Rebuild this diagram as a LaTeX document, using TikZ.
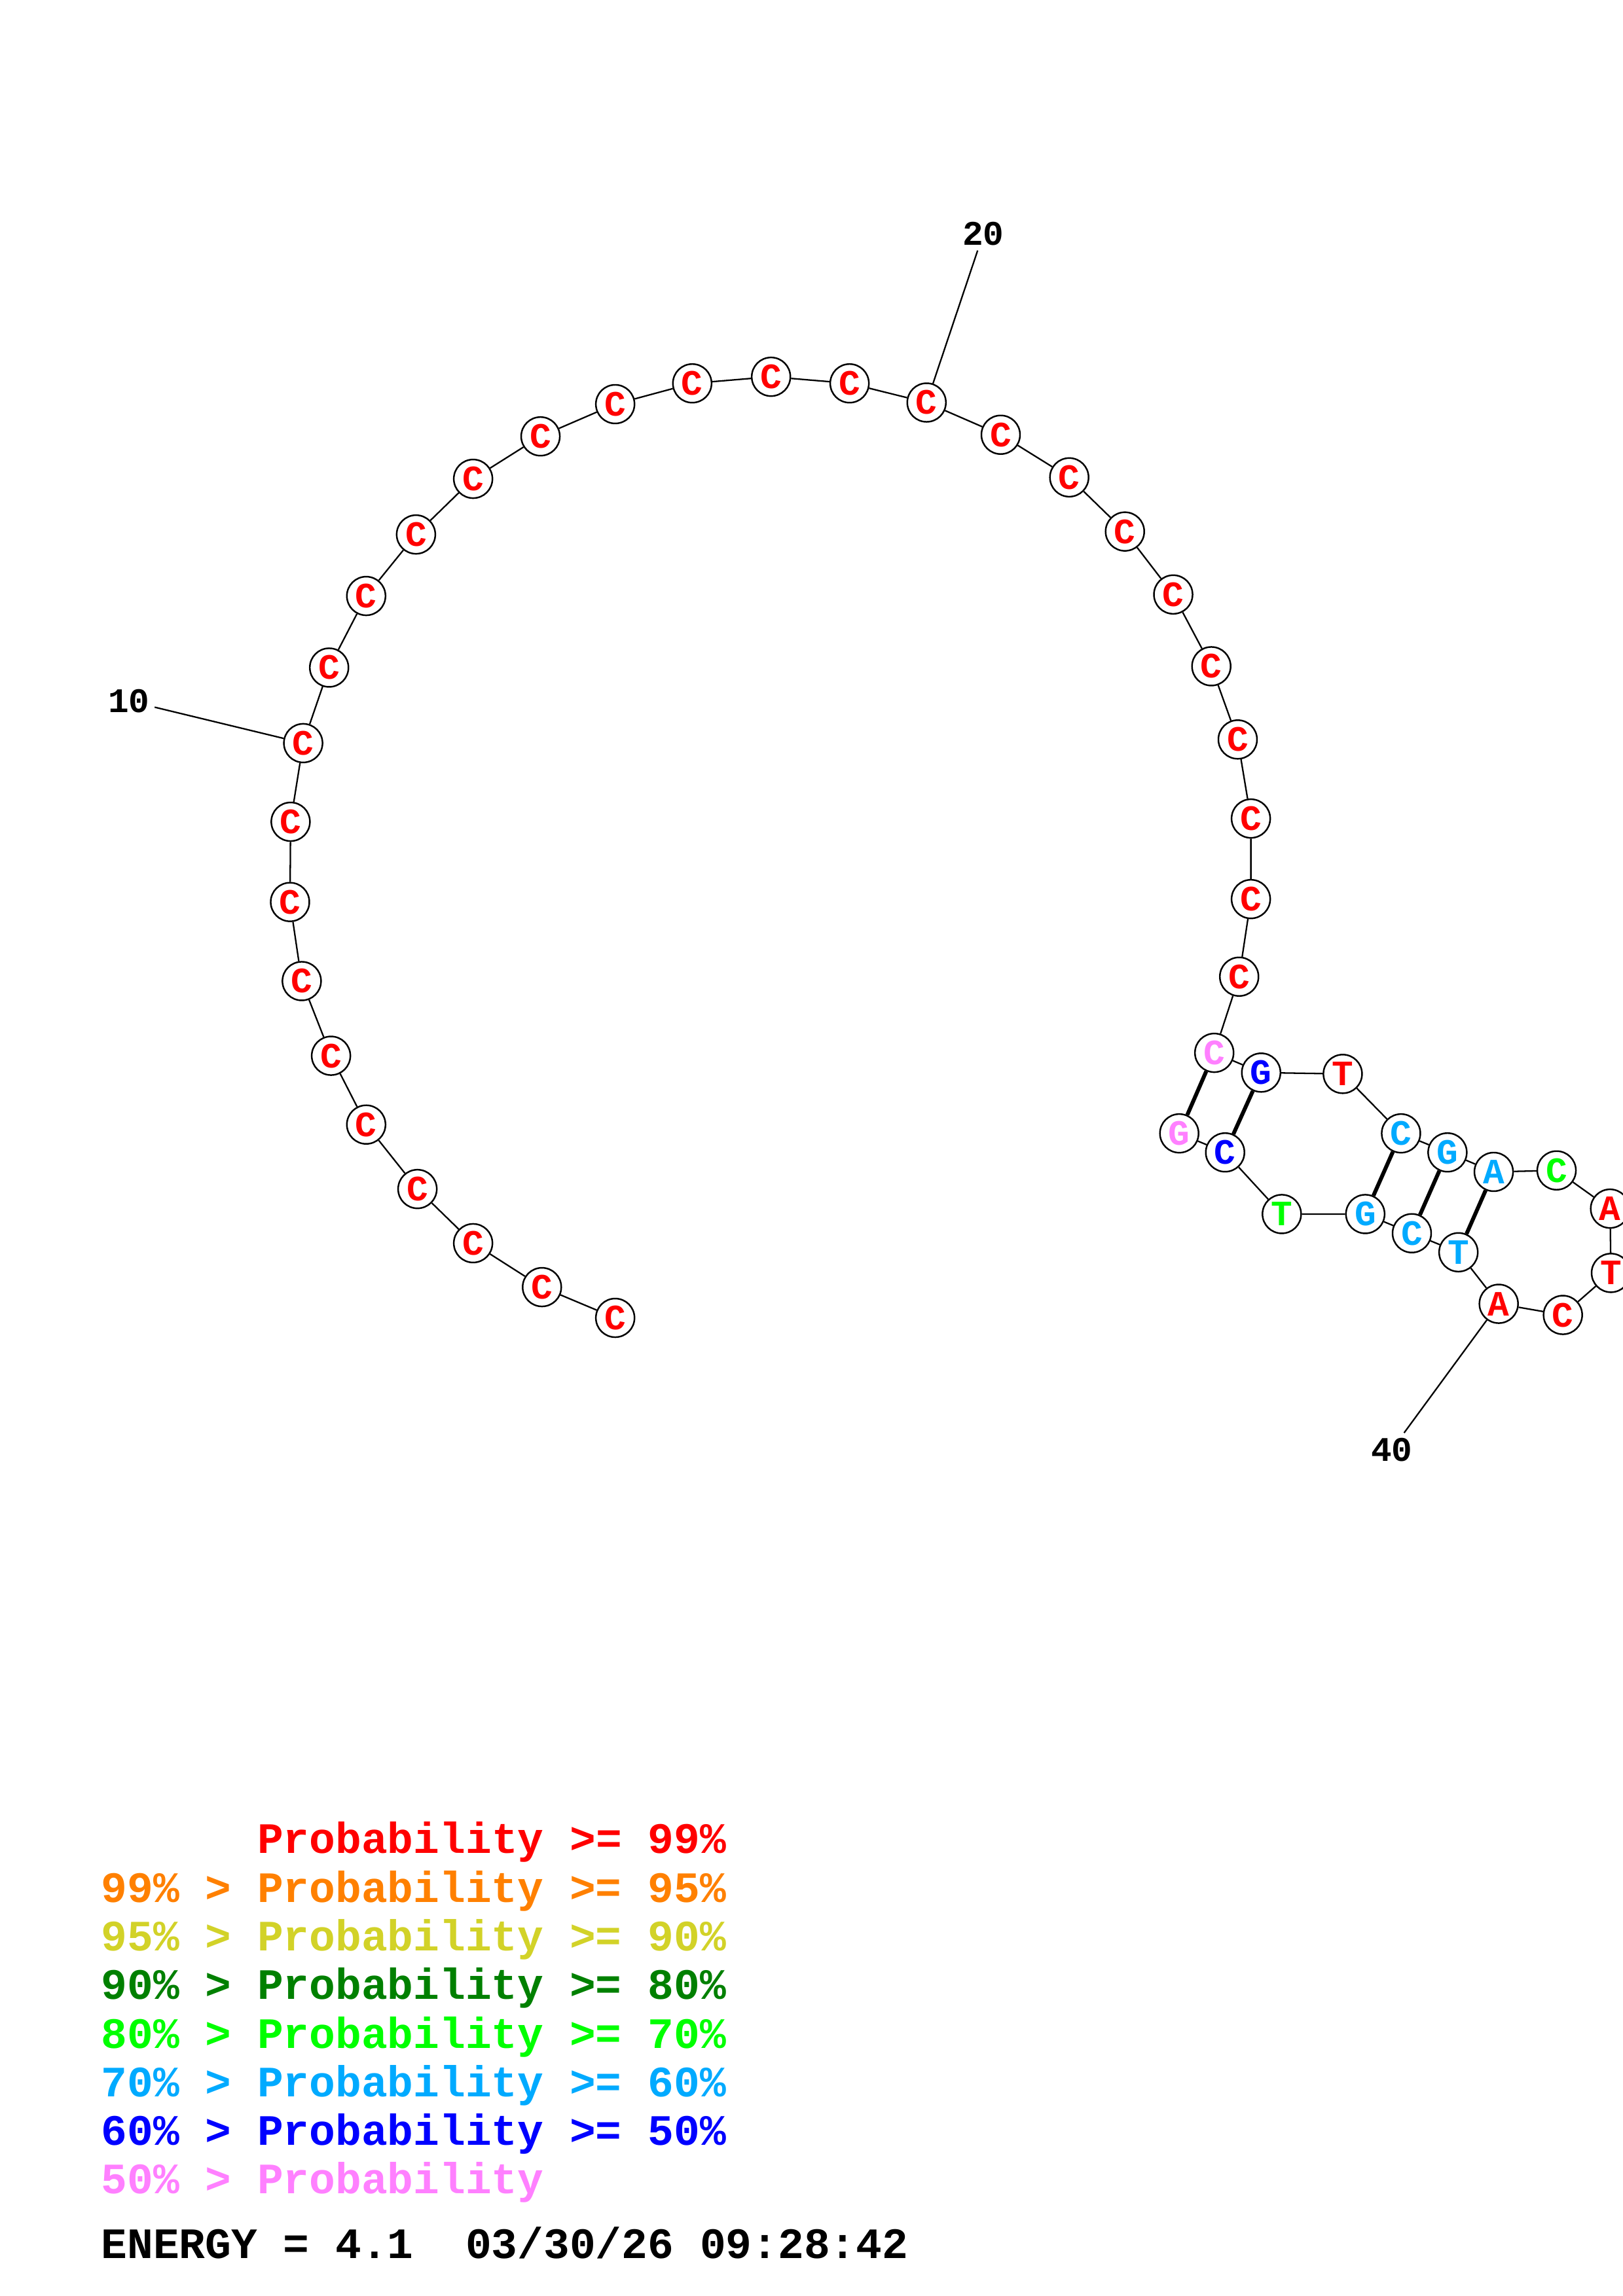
\documentclass[tikz,border=0pt]{standalone}
\usepackage{fontspec}
\setmonofont{Liberation Mono}
\usepackage{xcolor}

\definecolor{pRed}{RGB}{255,0,0}
\definecolor{pOrange}{RGB}{255,128,0}
\definecolor{pYellow}{RGB}{210,210,40}
\definecolor{pDkGreen}{RGB}{0,128,0}
\definecolor{pGreen}{RGB}{0,255,0}
\definecolor{pSky}{RGB}{0,170,255}
\definecolor{pBlue}{RGB}{0,0,255}
\definecolor{pPink}{RGB}{255,128,255}

\tikzset{
  nt/.style={circle, draw, fill=white, line width=0.7pt, minimum size=0.59cm, inner sep=0pt,
    font=\ttfamily\bfseries\fontsize{15.5pt}{15.5pt}\selectfont},
  bond/.style={line width=0.65pt},
  pairbond/.style={line width=1.7pt},
  num/.style={inner sep=2pt, font=\ttfamily\bfseries\fontsize{15pt}{15pt}\selectfont},
  legline/.style={anchor=base west, inner sep=0pt,
    font=\ttfamily\bfseries\fontsize{18.85pt}{18.85pt}\selectfont}
}

\begin{document}
\begin{tikzpicture}[x=0.022374cm, y=-0.022374cm]
        \useasboundingbox (0,0) rectangle (1108,1568);

        % Nodes
        \node[nt, text=pRed] (n1) at (420,900) {C};
        \node[nt, text=pRed] (n2) at (370,879) {C};
        \node[nt, text=pRed] (n3) at (323,849) {C};
        \node[nt, text=pRed] (n4) at (285,812) {C};
        \node[nt, text=pRed] (n5) at (250,768) {C};
        \node[nt, text=pRed] (n6) at (226,721) {C};
        \node[nt, text=pRed] (n7) at (206,670) {C};
        \node[nt, text=pRed] (n8) at (198,616) {C};
        \node[nt, text=pRed] (n9) at (198.4,561.2) {C};
        \node[nt, text=pRed] (n10) at (207,507.5) {C};
        \node[nt, text=pRed] (n11) at (224.7,455.9) {C};
        \node[nt, text=pRed] (n12) at (250,407) {C};
        \node[nt, text=pRed] (n13) at (284,365) {C};
        \node[nt, text=pRed] (n14) at (323,327) {C};
        \node[nt, text=pRed] (n15) at (369,298) {C};
        \node[nt, text=pRed] (n16) at (420,276) {C};
        \node[nt, text=pRed] (n17) at (472.6,261.8) {C};
        \node[nt, text=pRed] (n18) at (526.4,257.3) {C};
        \node[nt, text=pRed] (n19) at (580,261.8) {C};
        \node[nt, text=pRed] (n20) at (632.6,274.9) {C};
        \node[nt, text=pRed] (n21) at (683.2,296.9) {C};
        \node[nt, text=pRed] (n22) at (730,326) {C};
        \node[nt, text=pRed] (n23) at (768,363) {C};
        \node[nt, text=pRed] (n24) at (801,406) {C};
        \node[nt, text=pRed] (n25) at (827,455) {C};
        \node[nt, text=pRed] (n26) at (845,505) {C};
        \node[nt, text=pRed] (n27) at (854,559) {C};
        \node[nt, text=pRed] (n28) at (854,614) {C};
        \node[nt, text=pRed] (n29) at (846,667) {C};
        \node[nt, text=pPink] (n30) at (829,719) {C};
        \node[nt, text=pBlue] (n31) at (861,732.5) {G};
        \node[nt, text=pRed] (n32) at (916.7,733.4) {T};
        \node[nt, text=pSky] (n33) at (956.5,774) {C};
        \node[nt, text=pSky] (n34) at (988.2,787) {G};
        \node[nt, text=pSky] (n35) at (1019.8,800.3) {A};
        \node[nt, text=pGreen] (n36) at (1062.7,799.3) {C};
        \node[nt, text=pRed] (n37) at (1099.2,825.4) {A};
        \node[nt, text=pRed] (n38) at (1099.8,869.3) {T};
        \node[nt, text=pRed] (n39) at (1067,898) {C};
        \node[nt, text=pRed] (n40) at (1023.2,890.4) {A};
        \node[nt, text=pSky] (n41) at (995.7,855.2) {T};
        \node[nt, text=pSky] (n42) at (963.9,842.2) {C};
        \node[nt, text=pSky] (n43) at (932.1,829.1) {G};
        \node[nt, text=pGreen] (n44) at (875.1,829.1) {T};
        \node[nt, text=pBlue] (n45) at (836.4,787) {C};
        \node[nt, text=pPink] (n46) at (805.1,774) {G};

        % Numbers
        \node[num] (l10) at (88,478.7) {10};
        \node[num] (l20) at (671.3,159.6) {20};
        \node[num] (l40) at (950.2,990) {40};

        % Backbone
        \draw[bond] (n1) -- (n2) -- (n3) -- (n4) -- (n5) -- (n6) -- (n7) -- (n8) -- (n9) -- (n10)
            -- (n11) -- (n12) -- (n13) -- (n14) -- (n15) -- (n16) -- (n17) -- (n18) -- (n19) -- (n20)
            -- (n21) -- (n22) -- (n23) -- (n24) -- (n25) -- (n26) -- (n27) -- (n28) -- (n29) -- (n30)
            -- (n31) -- (n32) -- (n33) -- (n34) -- (n35) -- (n36) -- (n37) -- (n38) -- (n39) -- (n40)
            -- (n41) -- (n42) -- (n43) -- (n44) -- (n45) -- (n46);

        % Base pairs
        \draw[pairbond] (n30) -- (n46);
        \draw[pairbond] (n31) -- (n45);
        \draw[pairbond] (n33) -- (n43);
        \draw[pairbond] (n34) -- (n42);
        \draw[pairbond] (n35) -- (n41);

        % Number ticks
        \draw[bond] (n10) -- (l10);
        \draw[bond] (n20) -- (l20);
        \draw[bond] (n40) -- (l40);

        % Legend
        \node[legline, text=pRed] (k99) at (68.8,1265.8) {\phantom{99\% > }Probability >= 99\%};
        \node[legline, text=pOrange] (k95) at (68.8,1299.0) {99\% > Probability >= 95\%};
        \node[legline, text=pYellow] (k90) at (68.8,1332.2) {95\% > Probability >= 90\%};
        \node[legline, text=pDkGreen] (k80) at (68.8,1365.4) {90\% > Probability >= 80\%};
        \node[legline, text=pGreen] (k70) at (68.8,1398.6) {80\% > Probability >= 70\%};
        \node[legline, text=pSky] (k60) at (68.8,1431.8) {70\% > Probability >= 60\%};
        \node[legline, text=pBlue] (k50) at (68.8,1465.0) {60\% > Probability >= 50\%};
        \node[legline, text=pPink] (k00) at (68.8,1498.2) {50\% > Probability};
        \node[legline] (energy) at (68.8,1542.4) {ENERGY = 4.1~~03/30/26 09:28:42};

    \end{tikzpicture}
\end{document}
